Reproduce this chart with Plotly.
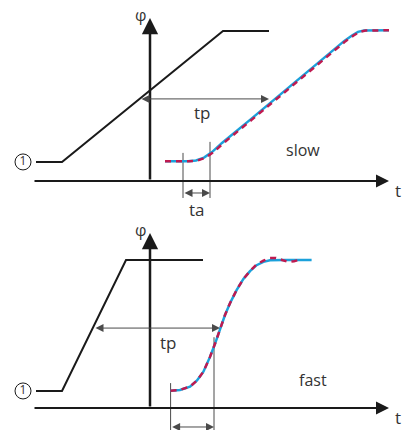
import plotly.graph_objects as go
from plotly.subplots import make_subplots

# ── Data (t and φ in arbitrary units, axes cross at 0) ──────────────
# slow response (top)
slow_input_t = [-5.7, -4.4, 3.65, 5.95]
slow_input_phi = [1.45, 1.45, 11.45, 11.45]
slow_meas_t = [0.75, 1.9, 2.3, 2.7, 3.1, 3.6, 5.0, 7.0, 9.0, 9.7, 10.1, 10.4, 10.7, 11.95]
slow_meas_phi = [1.5, 1.5, 1.56, 1.78, 2.2, 2.9, 4.66, 7.2, 9.8, 10.67, 11.1, 11.38, 11.48, 11.5]
slow_model_t = [0.75, 1.95, 2.38, 2.78, 3.18, 3.68, 5.08, 7.08, 9.08, 9.78, 10.18, 10.48, 10.78, 11.95]
slow_model_phi = [1.5, 1.5, 1.56, 1.78, 2.2, 2.9, 4.66, 7.2, 9.8, 10.67, 11.1, 11.38, 11.48, 11.5]
slow_tp = [-0.5, 5.95]
slow_tp_level = 6.26
slow_ta = [1.65, 3.0]
slow_ta_top = [2.14, 2.98]

# fast response (bottom)
fast_input_t = [-5.7, -4.4, -1.2, 2.65]
fast_input_phi = [1.3, 1.3, 11.3, 11.3]
fast_meas_t = [1.03, 1.5, 2.0, 2.35, 2.67, 3.0, 3.25, 3.5, 3.75, 4.0, 4.33, 4.67, 5.0, 5.33, 5.67, 6.0, 6.67, 8.08]
fast_meas_phi = [1.32, 1.38, 1.63, 2.1, 2.77, 3.9, 4.9, 6.05, 7.1, 8.0, 9.0, 9.85, 10.45, 10.9, 11.15, 11.27, 11.3, 11.3]
fast_model_t = [1.03, 1.5, 2.0, 2.35, 2.67, 3.0, 3.25, 3.5, 3.75, 4.0, 4.33, 4.67, 5.0, 5.33, 5.67, 6.0, 6.3, 6.6, 6.9, 7.2, 7.4]
fast_model_phi = [1.32, 1.38, 1.63, 2.1, 2.77, 3.9, 4.9, 6.05, 7.1, 8.0, 9.0, 9.85, 10.45, 10.95, 11.25, 11.45, 11.45, 11.3, 11.15, 11.2, 11.28]
fast_tp = [-2.8, 3.5]
fast_tp_level = 6.1
fast_ta = [1.03, 3.2]
fast_ta_top = [1.9, 5.4]

BLUE = "#1ba1db"
RED = "#bf1a50"
INK = "#1a1a1a"
GREY = "#4a4a4a"
TXT = "#333333"
FONT = "Open Sans"

fig = make_subplots(rows=2, cols=1, vertical_spacing=0)

panels = [
    (1, "", slow_input_t, slow_input_phi, slow_meas_t, slow_meas_phi, slow_model_t, slow_model_phi,
     slow_tp, slow_tp_level, slow_ta, slow_ta_top, -1.3, -0.92, "slow", (7.65, 2.37), (2.6, 5.2), 12.44, (-2.6, 13.81)),
    (2, "2", fast_input_t, fast_input_phi, fast_meas_t, fast_meas_phi, fast_model_t, fast_model_phi,
     fast_tp, fast_tp_level, fast_ta, fast_ta_top, -1.7, -1.45, "fast", (8.15, 2.14), (0.9, 5.0), 13.36, (-1.68, 14.73)),
]

for (row, sfx, in_t, in_phi, m_t, m_phi, md_t, md_phi, tp, tp_lvl, ta, ta_top,
     ta_bot, ta_lvl, name, name_pos, tp_pos, yax_top, yrange) in panels:
    xr, yr = "x" + sfx, "y" + sfx

    # input step/ramp
    fig.add_trace(go.Scatter(x=in_t, y=in_phi, mode="lines",
                             line=dict(color=INK, width=2)), row=row, col=1)
    # ta helper lines
    for t0, top in zip(ta, ta_top):
        fig.add_trace(go.Scatter(x=[t0, t0], y=[top, ta_bot], mode="lines",
                                 line=dict(color=GREY, width=1)), row=row, col=1)
    # response curves
    fig.add_trace(go.Scatter(x=m_t, y=m_phi, mode="lines",
                             line=dict(color=BLUE, width=2.5)), row=row, col=1)
    fig.add_trace(go.Scatter(x=md_t, y=md_phi, mode="lines",
                             line=dict(color=RED, width=2.5, dash="6px,5px")), row=row, col=1)
    # circled marker "1"
    fig.add_trace(go.Scatter(x=[in_t[0] - 0.65], y=[in_phi[0]], mode="markers+text",
                             text=["1"], textposition="middle center",
                             textfont=dict(family=FONT, size=12, color=TXT),
                             marker=dict(size=16, color="white", line=dict(color=INK, width=1))),
                  row=row, col=1)

    arrows = [
        # t axis and φ axis
        dict(x=11.95, y=0, ax=-5.85, ay=0, arrowwidth=2, arrowside="end"),
        dict(x=0, y=yax_top, ax=0, ay=0, arrowwidth=2.5, arrowside="end"),
        # tp and ta dimension arrows
        dict(x=tp[1], y=tp_lvl, ax=tp[0], ay=tp_lvl, arrowwidth=1, arrowside="end+start"),
        dict(x=ta[1], y=ta_lvl, ax=ta[0], ay=ta_lvl, arrowwidth=1, arrowside="end+start"),
    ]
    for a in arrows:
        thick = a["arrowwidth"] > 1
        fig.add_annotation(xref=xr, yref=yr, axref=xr, ayref=yr, text="", showarrow=True,
                           arrowhead=2, arrowsize=1.3 if thick else 1.6,
                           arrowcolor=INK if thick else GREY, **a)

    labels = [
        (12.4, -0.72, "t", 17),
        (-0.5, yax_top + 0.2, "φ", 16),
        (tp_pos[0], tp_pos[1], "tp", 17),
        (name_pos[0], name_pos[1], name, 16),
    ]
    if row == 1:
        labels.append((2.35, -2.2, "ta", 17))
    for x, y, s, size in labels:
        fig.add_annotation(xref=xr, yref=yr, x=x, y=y, text=s, showarrow=False,
                           font=dict(family=FONT, size=size, color=TXT))

    fig.update_xaxes(range=[-7.5, 12.6], visible=False, row=row, col=1)
    fig.update_yaxes(range=list(yrange), visible=False, row=row, col=1)

fig.update_layout(
    width=402, height=430,
    margin=dict(l=0, r=0, t=0, b=0),
    showlegend=False,
    plot_bgcolor="white", paper_bgcolor="white",
)

# drop the browser's default body margin so the figure sits at the page corner
fig.write_html("out.html", config={"displayModeBar": False},
               post_script="document.body.style.margin='0';")
